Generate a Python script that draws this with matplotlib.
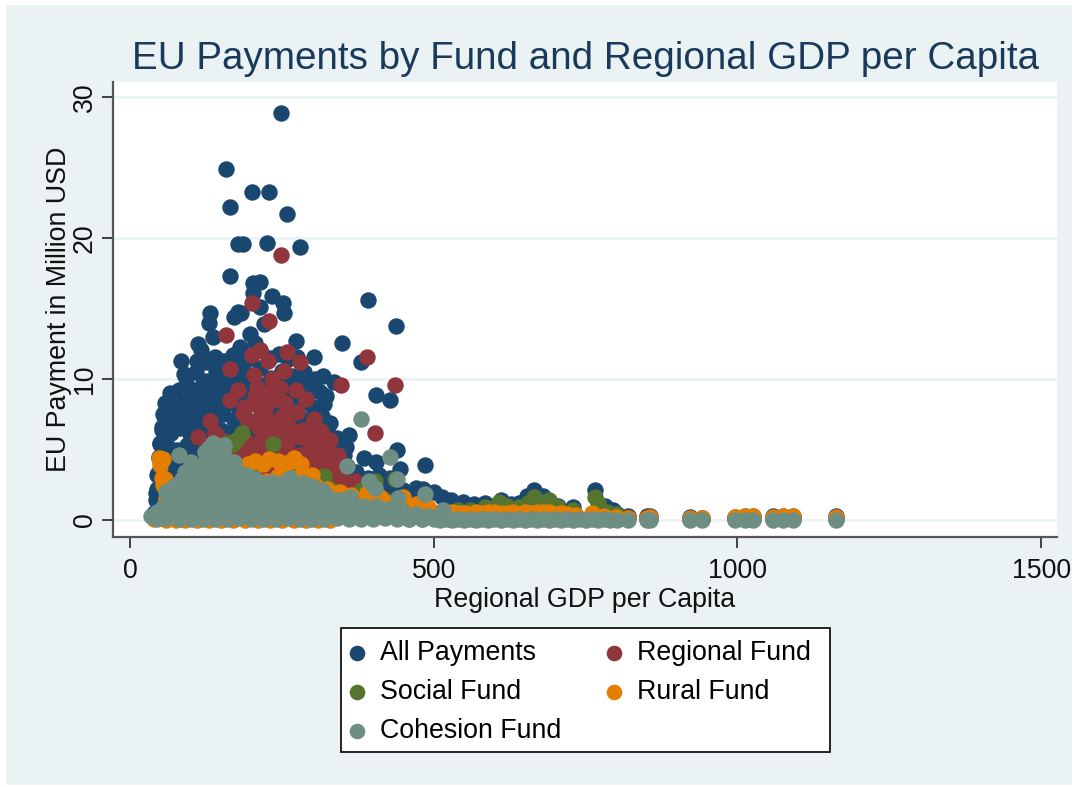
import matplotlib
matplotlib.use("Agg")
import matplotlib.pyplot as plt
from matplotlib.patches import Rectangle

plt.rcParams['font.family'] = ['Liberation Sans', 'DejaVu Sans']

far_x = [802, 820, 851, 856, 922, 942, 996, 1013, 1026, 1059, 1075, 1092, 1163]

all_x = [249, 158, 201, 229, 165, 258, 226, 280, 178, 186, 165, 202, 214, 202, 234, 252, 254, 214, 178, 171,
         183, 132, 130, 137, 112, 117, 84, 89, 110, 140, 181, 221, 197, 206, 214, 194, 273, 303, 318, 336,
         349, 392, 438, 380, 405, 428, 440, 445, 485, 360, 355, 405, 385,
         92, 108, 125, 142, 160, 178, 196, 214, 232, 250, 268, 286, 304,
         66, 80, 97, 115, 133, 150, 169, 187, 205, 223, 241, 259, 277, 295, 312, 322,
         60, 74, 88, 104, 122, 139, 157, 176, 194, 212, 230, 248, 266, 284, 302, 320,
         56, 70, 85, 101, 118, 136, 153, 171, 190, 208, 226, 244, 262, 280, 298, 316, 330,
         52, 67, 82, 98, 114, 131, 149, 167, 185, 203, 221, 239, 257, 275, 293, 311, 328, 340,
         49, 62, 78, 94, 111, 128, 146, 164, 182, 200, 218, 236, 254, 272, 290, 308, 326, 344, 352,
         47, 60, 76, 92, 109, 126, 143, 161, 179, 197, 215, 233, 251, 269, 287, 305, 323, 341, 358, 372,
         45, 58, 74, 90, 107, 124, 141, 159, 177, 195, 213, 231, 249, 267, 285, 303, 321, 339, 357, 375, 392, 410, 428,
         43, 55, 72, 88, 105, 122, 140, 158, 176, 194, 212, 230, 248, 266, 284, 302, 320, 338, 356, 374, 392, 412, 430, 450, 468,
         58, 55, 52, 50, 48, 46, 44, 42, 40,
         438, 452, 470, 482, 500, 514, 528, 548, 566, 585, 610, 628, 640, 654, 665, 680, 692, 705, 730, 765, 782, 795,
         125, 140, 155, 170, 185, 230, 245, 260, 275, 120, 135, 150, 165, 180, 195, 212, 228, 244, 262, 280,
         105, 128, 152, 176, 198, 222, 246, 270, 292] + far_x
all_y = [28.9, 24.9, 23.3, 23.3, 22.2, 21.7, 19.7, 19.4, 19.6, 19.6, 17.3, 16.8, 16.9, 16.1, 15.9, 15.4, 14.7, 15.1, 14.8, 14.4,
         14.7, 14.7, 14.0, 13.0, 12.5, 12.1, 11.3, 10.4, 11.3, 11.4, 12.3, 13.9, 13.2, 12.6, 12.1, 11.4, 12.7, 11.6, 10.2, 9.8,
         12.6, 15.6, 13.8, 11.2, 8.9, 8.5, 5.0, 3.6, 3.9, 6.0, 5.2, 4.1, 4.4,
         10.1, 10.5, 9.9, 10.6, 10.2, 10.7, 10.3, 10.8, 10.1, 10.6, 10.2, 10.5, 10.0,
         9.0, 9.2, 9.4, 9.1, 9.5, 9.0, 9.3, 9.6, 9.1, 9.4, 9.2, 9.5, 9.0, 9.3, 9.1, 8.8,
         8.2, 8.0, 8.3, 8.1, 8.4, 8.0, 8.3, 8.1, 8.5, 8.2, 8.0, 8.3, 8.1, 8.4, 8.0, 8.2,
         7.4, 7.1, 7.3, 7.0, 7.4, 7.2, 7.5, 7.1, 7.3, 7.0, 7.4, 7.2, 7.0, 7.3, 7.1, 7.4, 6.9,
         6.4, 6.2, 6.5, 6.1, 6.3, 6.0, 6.4, 6.2, 6.5, 6.1, 6.3, 6.0, 6.4, 6.2, 6.1, 6.3, 6.0, 5.8,
         5.4, 5.2, 5.0, 5.3, 5.1, 5.4, 5.0, 5.2, 5.3, 5.1, 5.4, 5.0, 5.2, 5.3, 5.1, 5.2, 5.0, 4.9, 4.6,
         4.4, 4.2, 4.0, 4.3, 4.1, 4.4, 4.0, 4.2, 4.3, 4.1, 4.4, 4.0, 4.2, 4.3, 4.1, 4.2, 4.0, 3.9, 3.8, 3.4,
         3.2, 3.0, 3.3, 3.1, 3.4, 3.0, 3.2, 3.1, 3.3, 3.0, 3.2, 3.4, 3.1, 3.3, 3.0, 3.2, 3.1, 3.0, 2.9, 2.8, 3.0, 3.2, 3.0,
         1.9, 2.1, 1.8, 2.0, 1.9, 2.2, 1.8, 2.0, 2.1, 1.9, 2.2, 1.8, 2.0, 2.1, 1.9, 2.0, 1.8, 2.0, 2.1, 1.9, 2.0, 2.2, 2.3, 2.1, 2.0,
         8.3, 7.5, 6.6, 5.5, 4.5, 3.3, 2.2, 1.4, 0.5,
         2.4, 2.0, 2.3, 2.2, 2.0, 1.6, 1.4, 1.3, 1.1, 1.2, 1.4, 1.1, 1.2, 1.7, 2.1, 1.7, 1.3, 1.0, 0.9, 2.1, 1.0, 0.7,
         11.2, 11.6, 11.3, 11.7, 11.2, 11.5, 11.8, 11.4, 11.6, 9.7, 9.9, 9.6, 9.8, 9.7, 9.9, 9.6, 9.8, 9.6, 9.7, 9.8,
         8.7, 8.8, 8.7, 8.8, 8.7, 8.8, 8.7, 8.8, 8.7] + [0.4, 0.3, 0.25, 0.25, 0.2, 0.15, 0.2, 0.3, 0.3, 0.25, 0.3, 0.3, 0.25]

regional_x = [249, 201, 229, 158, 258, 214, 201, 227, 280, 390, 165, 254, 204, 234, 347, 436, 178, 165, 209, 247,
              273, 234, 212, 186, 275, 303, 249, 132, 212, 234, 140, 112, 403,
              329, 343, 354, 370,
              155, 172, 190, 208, 226, 244, 262, 280, 298, 316,
              150, 168, 186, 204, 222, 240, 258, 276, 294, 312, 330,
              146, 164, 182, 200, 218, 236, 254, 272, 290, 308, 326, 342,
              130, 148, 166, 184, 202, 220, 238, 256, 274, 292, 310, 328, 346, 360,
              90, 110, 128, 146, 164, 182, 200, 218, 236, 254, 272, 290, 308, 326, 344, 362, 378,
              70, 60, 66, 400, 440, 470, 520, 640, 690, 770, 790,
              195, 215, 240, 262, 285, 300, 205, 225, 255, 290, 315, 190, 222, 262] + far_x
regional_y = [18.8, 15.4, 14.1, 13.1, 11.9, 12.1, 11.7, 11.3, 11.2, 11.6, 10.7, 10.6, 10.3, 10.0, 9.6, 9.6, 9.2, 8.5, 9.4, 9.4,
              9.2, 8.5, 8.0, 7.6, 7.7, 7.2, 7.3, 7.0, 6.5, 6.9, 6.2, 5.9, 6.2,
              5.7, 4.6, 3.9, 2.8,
              5.6, 5.3, 5.7, 5.4, 5.8, 5.5, 5.7, 5.9, 5.6, 5.8,
              4.8, 4.5, 4.9, 4.6, 5.0, 4.7, 4.9, 4.6, 5.0, 4.8, 4.7,
              3.9, 3.7, 4.0, 3.8, 4.1, 3.9, 3.7, 4.0, 3.8, 4.1, 3.9, 3.6,
              3.0, 3.1, 2.9, 3.2, 3.0, 3.1, 2.9, 3.2, 3.0, 3.1, 2.9, 3.0, 3.0, 2.6,
              2.2, 2.0, 2.3, 2.1, 2.2, 2.0, 2.3, 2.1, 2.2, 2.0, 2.3, 2.1, 2.2, 2.0, 2.1, 2.0, 1.9,
              2.5, 1.5, 0.8, 1.4, 1.0, 0.8, 0.6, 0.7, 0.6, 0.7, 0.4,
              7.0, 7.3, 6.4, 6.6, 6.4, 6.0, 8.7, 9.0, 8.3, 8.6, 6.3, 8.0, 7.8, 7.6] + [0.2, 0.2, 0.2, 0.2, 0.15, 0.15, 0.15, 0.2, 0.2, 0.15, 0.2, 0.2, 0.15]

social_x = [185, 175, 170, 160, 201, 195, 236, 262, 270, 286, 300, 315, 320, 345, 395, 403, 436, 455,
            120, 140, 165, 210, 240, 280, 330, 380, 420, 470, 540, 560, 585, 608, 620, 640, 655, 665, 680, 690, 705, 730,
            765, 770, 785, 800] + far_x
social_y = [6.2, 5.7, 5.4, 5.5, 3.6, 3.4, 5.4, 3.9, 3.0, 3.1, 2.6, 2.5, 3.1, 2.0, 2.4, 2.8, 2.9, 1.0,
            2.2, 2.5, 2.8, 2.7, 2.8, 2.6, 2.2, 2.1, 1.4, 0.8, 0.7, 0.7, 0.9, 1.3, 1.0, 0.9, 1.2, 1.6, 1.3, 1.4, 0.9, 0.7,
            1.6, 1.2, 0.6, 0.4] + [0.15, 0.15, 0.1, 0.1, 0.1, 0.1, 0.1, 0.1, 0.1, 0.1, 0.1, 0.1, 0.1]

rural_x = [48, 54, 50, 52, 58, 55, 62, 70, 60, 175, 185, 195, 205, 219, 228, 243, 253, 262, 270, 281, 273, 260, 243, 300, 290,
           205, 225, 245, 265, 285, 305, 325, 345, 363, 390, 412, 450,
           425, 405, 385, 470, 440, 415, 395, 375, 355, 335, 315, 295, 490,
           510, 530, 550, 570, 590, 610, 630, 650, 670, 690, 710, 735, 760, 780, 800,
           40, 60, 90, 130, 170, 210, 250, 290, 330, 75, 110, 150, 190, 230, 270, 310,
           500, 520, 540, 560, 580, 600, 620, 640, 660, 680, 700, 720] + far_x
rural_y = [4.4, 4.3, 3.9, 3.0, 2.9, 2.5, 2.2, 1.9, 1.5, 3.3, 3.6, 4.0, 4.2, 4.0, 4.3, 4.2, 4.0, 4.1, 4.4, 4.0, 3.0, 2.9, 3.1, 3.2, 3.0,
           2.9, 2.8, 3.0, 2.9, 2.6, 2.5, 2.2, 2.0, 1.8, 1.9, 1.6, 1.6,
           1.2, 1.1, 1.0, 1.1, 0.8, 0.8, 1.3, 1.2, 1.3, 1.5, 1.6, 1.8, 0.9,
           0.6, 0.6, 0.5, 0.6, 0.55, 0.5, 0.6, 0.55, 0.6, 0.6, 0.5, 0.35, 0.5, 0.3, 0.2,
           0.05, 0.0, 0.0, 0.0, 0.0, 0.0, 0.0, 0.0, 0.0, 0.0, 0.0, 0.0, 0.0, 0.0, 0.0, 0.0,
           0.5, 0.55, 0.5, 0.45, 0.5, 0.55, 0.5, 0.45, 0.5, 0.55, 0.45, 0.4] + [0.1, 0.15, 0.15, 0.2, 0.15, 0.15, 0.2, 0.25, 0.25, 0.2, 0.25, 0.25, 0.2]

cohesion_x = [380, 428, 357, 81, 137, 153, 123, 486, 440, 394, 403, 441, 263, 285, 316, 362, 515,
              35, 45, 55, 65, 78, 90, 100, 115, 130, 145, 160, 175, 190, 205, 220, 235, 250,
              60, 72, 85, 98, 110, 125, 140, 155, 170, 185, 198, 210,
              90, 105, 118, 132, 148, 164, 178, 192,
              100, 125, 140, 158, 172,
              130, 145, 155,
              225, 245, 265, 285, 305, 325, 345, 365, 385, 405, 425, 445,
              215, 232, 250, 268, 300, 330, 350, 375,
              45, 80, 120, 160, 200, 240, 280, 320, 360, 400, 440, 460, 480,
              500, 520, 540, 560, 580, 600, 620, 640, 660, 680, 700, 720, 740, 760, 780,
              40, 60, 80, 100, 120, 140, 160, 180, 200, 220, 240, 260, 280, 300, 320, 340, 360, 380, 400, 420, 440, 460, 480,
              50, 70, 90, 110, 130, 150, 170, 190, 210, 230, 250, 270, 290, 310, 330, 350, 370, 390, 410, 430, 450, 470,
              62, 82, 102, 122, 142, 162, 182, 202, 222, 242, 262, 282, 302, 322, 342, 362,
              75, 95, 115, 135, 155, 175, 195, 215, 235, 255, 275, 295,
              85, 105, 125, 145, 165, 185, 205,
              510, 530, 550, 570, 590, 610, 630, 650, 670, 690, 710, 730, 750, 770, 790,
              490, 505, 465] + far_x
cohesion_y = [7.2, 4.5, 3.8, 4.6, 5.5, 4.8, 4.8, 1.85, 2.9, 2.8, 2.3, 1.55, 3.0, 2.6, 2.1, 1.6, 0.7,
              0.3, 0.6, 0.9, 1.2, 1.3, 1.5, 1.4, 1.6, 1.5, 1.6, 1.5, 1.4, 1.5, 1.4, 1.5, 1.4, 1.3,
              2.0, 2.4, 2.6, 2.5, 2.7, 2.6, 2.5, 2.7, 2.6, 2.5, 2.4, 2.2,
              3.4, 3.6, 3.5, 3.7, 3.6, 3.5, 3.4, 3.2,
              4.1, 4.2, 4.4, 4.3, 4.1,
              5.1, 5.0, 5.3,
              1.9, 2.0, 2.1, 1.9, 1.8, 1.7, 1.4, 1.2, 1.0, 1.0, 0.8, 0.7,
              2.6, 2.7, 2.6, 2.2, 2.4, 1.5, 1.2, 0.8,
              0.1, 0.1, 0.1, 0.1, 0.1, 0.1, 0.1, 0.1, 0.1, 0.1, 0.1, 0.1, 0.1,
              0.05, 0.05, 0.05, 0.05, 0.05, 0.05, 0.05, 0.05, 0.05, 0.05, 0.05, 0.05, 0.05, 0.05, 0.05,
              0.2, 0.15, 0.2, 0.1, 0.2, 0.1, 0.2, 0.15, 0.2, 0.1, 0.2, 0.15, 0.2, 0.1, 0.2, 0.15, 0.2, 0.1, 0.2, 0.15, 0.2, 0.1, 0.1,
              0.5, 0.6, 0.7, 0.8, 0.7, 0.8, 0.7, 0.8, 0.9, 0.8, 0.9, 0.8, 0.9, 0.8, 0.9, 0.8, 0.7, 0.6, 0.6, 0.5, 0.5, 0.4,
              1.2, 1.3, 1.4, 1.3, 1.4, 1.3, 1.4, 1.3, 1.4, 1.3, 1.4, 1.3, 1.4, 1.3, 1.4, 1.0,
              2.0, 2.1, 2.0, 2.1, 2.0, 2.1, 2.0, 2.1, 2.0, 2.1, 2.0, 2.1,
              2.9, 3.0, 2.9, 3.0, 2.9, 3.0, 2.9,
              0.02, 0.03, 0.02, 0.03, 0.02, 0.03, 0.02, 0.03, 0.02, 0.03, 0.02, 0.03, 0.02, 0.03, 0.02,
              0.3, 0.2, 0.35] + [0.03] * 13

series_names = ["All Payments", "Regional Fund", "Social Fund", "Rural Fund", "Cohesion Fund"]
series_colors = ["#1A476F", "#90353B", "#55752F", "#E37E00", "#6E8E84"]
series_x = [all_x, regional_x, social_x, rural_x, cohesion_x]
series_y = [all_y, regional_y, social_y, rural_y, cohesion_y]
x_ticks = [0, 500, 1000, 1500]
y_ticks = [0, 10, 20, 30]

W, H = 1076, 787
fig = plt.figure(figsize=(W / 100, H / 100), dpi=100, facecolor="white")
fig.add_artist(Rectangle((6 / W, 1 - 785 / H), 1066 / W, 780 / H, transform=fig.transFigure,
                         facecolor="#EAF2F3", edgecolor="none", zorder=-5))
ax = fig.add_axes([113 / W, 1 - 537 / H, 944 / W, 455 / H], facecolor="white")
handles = {}
for name, color, xs, ys in zip(series_names, series_colors, series_x, series_y):
    handles[name] = ax.scatter(xs, ys, s=140, color=color, linewidths=0, label=name, zorder=3)

ax.set_xlim(-28, 1526)
ax.set_ylim(-1.21, 31.1)
ax.set_xticks(x_ticks)
ax.set_yticks(y_ticks)
ax.yaxis.grid(True, color="#EAF2F3", linewidth=2, zorder=0)
ax.set_axisbelow(True)
for side in ("top", "right"):
    ax.spines[side].set_visible(False)
for side in ("left", "bottom"):
    ax.spines[side].set_color("#555555")
    ax.spines[side].set_linewidth(1.6)
ax.tick_params(axis="both", length=8, width=1.2, color="#222222", labelsize=19.3, labelcolor="#111111")
ax.tick_params(axis="x", pad=7)
ax.tick_params(axis="y", pad=3)
for lab in ax.get_yticklabels():
    lab.set_rotation(90)
    lab.set_va("center")
ax.set_xlabel("Regional GDP per Capita", fontsize=19.3, color="#111111", labelpad=2)
ax.set_ylabel("EU Payment in Million USD", fontsize=19.3, color="#111111", labelpad=0)
fig.text(586 / W, 1 - 59 / H, "EU Payments by Fund and Regional GDP per Capita", fontsize=27.8,
         color="#1A3A5C", ha="center", va="center")

fig.add_artist(Rectangle((341 / W, 1 - 752 / H), 489 / W, 124 / H, transform=fig.transFigure,
                         facecolor="white", edgecolor="black", linewidth=1.2, zorder=4))
order = ["All Payments", "Social Fund", "Cohesion Fund", "Regional Fund", "Rural Fund"]
leg = fig.legend([handles[n] for n in order], order, ncol=2, fontsize=19.3,
                 loc="center", bbox_to_anchor=(582 / W, 1 - 692 / H), frameon=False, labelspacing=0.5,
                 columnspacing=1.83, handletextpad=0.71, handlelength=0.3, borderpad=0, markerscale=0.95)
leg.set_zorder(5)
fig.savefig("out.png", dpi=100, facecolor="white")
